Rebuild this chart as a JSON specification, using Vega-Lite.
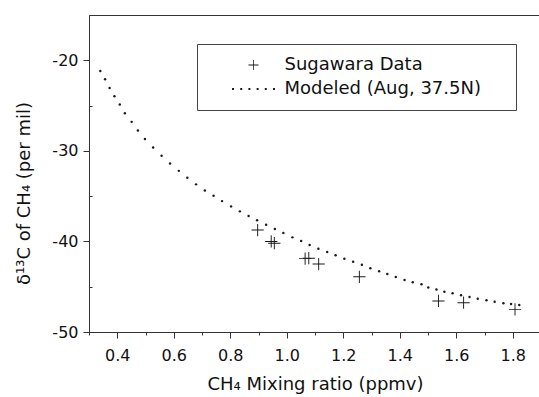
{
  "$schema": "https://vega.github.io/schema/vega-lite/v6.json",
  "width": 452,
  "height": 317,
  "autosize": {"type": "none"},
  "padding": {"left": 89, "top": 15, "right": 0, "bottom": 65},
  "background": "white",
  "config": {
    "view": {"stroke": "#333", "strokeWidth": 1},
    "font": "DejaVu Sans",
    "axis": {"grid": false, "domainColor": "#333", "tickColor": "#333", "labelColor": "#111", "titleColor": "#111", "labelFont": "DejaVu Sans", "titleFont": "DejaVu Sans", "titleFontWeight": "normal"}
  },
  "datasets": {
    "sugawara": [
      {"series": "Sugawara Data", "mixing_ratio": 0.897, "delta13c": -38.74},
      {"series": "Sugawara Data", "mixing_ratio": 0.945, "delta13c": -40.0},
      {"series": "Sugawara Data", "mixing_ratio": 0.956, "delta13c": -40.2},
      {"series": "Sugawara Data", "mixing_ratio": 1.065, "delta13c": -41.9},
      {"series": "Sugawara Data", "mixing_ratio": 1.078, "delta13c": -41.85},
      {"series": "Sugawara Data", "mixing_ratio": 1.113, "delta13c": -42.5},
      {"series": "Sugawara Data", "mixing_ratio": 1.257, "delta13c": -43.9},
      {"series": "Sugawara Data", "mixing_ratio": 1.537, "delta13c": -46.57},
      {"series": "Sugawara Data", "mixing_ratio": 1.626, "delta13c": -46.76},
      {"series": "Sugawara Data", "mixing_ratio": 1.808, "delta13c": -47.5}
    ],
    "modeled": [
      {"series": "Modeled (Aug, 37.5N)", "mixing_ratio": 0.340, "delta13c": -21.18},
      {"series": "Modeled (Aug, 37.5N)", "mixing_ratio": 0.357, "delta13c": -22.09},
      {"series": "Modeled (Aug, 37.5N)", "mixing_ratio": 0.373, "delta13c": -23.05},
      {"series": "Modeled (Aug, 37.5N)", "mixing_ratio": 0.390, "delta13c": -23.97},
      {"series": "Modeled (Aug, 37.5N)", "mixing_ratio": 0.409, "delta13c": -24.88},
      {"series": "Modeled (Aug, 37.5N)", "mixing_ratio": 0.427, "delta13c": -25.84},
      {"series": "Modeled (Aug, 37.5N)", "mixing_ratio": 0.451, "delta13c": -26.80},
      {"series": "Modeled (Aug, 37.5N)", "mixing_ratio": 0.473, "delta13c": -27.75},
      {"series": "Modeled (Aug, 37.5N)", "mixing_ratio": 0.498, "delta13c": -28.68},
      {"series": "Modeled (Aug, 37.5N)", "mixing_ratio": 0.527, "delta13c": -29.63},
      {"series": "Modeled (Aug, 37.5N)", "mixing_ratio": 0.557, "delta13c": -30.55},
      {"series": "Modeled (Aug, 37.5N)", "mixing_ratio": 0.587, "delta13c": -31.39},
      {"series": "Modeled (Aug, 37.5N)", "mixing_ratio": 0.618, "delta13c": -32.21},
      {"series": "Modeled (Aug, 37.5N)", "mixing_ratio": 0.648, "delta13c": -32.98},
      {"series": "Modeled (Aug, 37.5N)", "mixing_ratio": 0.679, "delta13c": -33.70},
      {"series": "Modeled (Aug, 37.5N)", "mixing_ratio": 0.710, "delta13c": -34.37},
      {"series": "Modeled (Aug, 37.5N)", "mixing_ratio": 0.741, "delta13c": -34.96},
      {"series": "Modeled (Aug, 37.5N)", "mixing_ratio": 0.771, "delta13c": -35.55},
      {"series": "Modeled (Aug, 37.5N)", "mixing_ratio": 0.803, "delta13c": -36.13},
      {"series": "Modeled (Aug, 37.5N)", "mixing_ratio": 0.834, "delta13c": -36.68},
      {"series": "Modeled (Aug, 37.5N)", "mixing_ratio": 0.865, "delta13c": -37.20},
      {"series": "Modeled (Aug, 37.5N)", "mixing_ratio": 0.895, "delta13c": -37.67},
      {"series": "Modeled (Aug, 37.5N)", "mixing_ratio": 0.927, "delta13c": -38.16},
      {"series": "Modeled (Aug, 37.5N)", "mixing_ratio": 0.958, "delta13c": -38.63},
      {"series": "Modeled (Aug, 37.5N)", "mixing_ratio": 0.988, "delta13c": -39.07},
      {"series": "Modeled (Aug, 37.5N)", "mixing_ratio": 1.020, "delta13c": -39.55},
      {"series": "Modeled (Aug, 37.5N)", "mixing_ratio": 1.051, "delta13c": -39.96},
      {"series": "Modeled (Aug, 37.5N)", "mixing_ratio": 1.081, "delta13c": -40.40},
      {"series": "Modeled (Aug, 37.5N)", "mixing_ratio": 1.112, "delta13c": -40.81},
      {"series": "Modeled (Aug, 37.5N)", "mixing_ratio": 1.143, "delta13c": -41.17},
      {"series": "Modeled (Aug, 37.5N)", "mixing_ratio": 1.173, "delta13c": -41.53},
      {"series": "Modeled (Aug, 37.5N)", "mixing_ratio": 1.204, "delta13c": -41.91},
      {"series": "Modeled (Aug, 37.5N)", "mixing_ratio": 1.235, "delta13c": -42.24},
      {"series": "Modeled (Aug, 37.5N)", "mixing_ratio": 1.266, "delta13c": -42.58},
      {"series": "Modeled (Aug, 37.5N)", "mixing_ratio": 1.296, "delta13c": -42.97},
      {"series": "Modeled (Aug, 37.5N)", "mixing_ratio": 1.327, "delta13c": -43.30},
      {"series": "Modeled (Aug, 37.5N)", "mixing_ratio": 1.356, "delta13c": -43.59},
      {"series": "Modeled (Aug, 37.5N)", "mixing_ratio": 1.386, "delta13c": -43.92},
      {"series": "Modeled (Aug, 37.5N)", "mixing_ratio": 1.417, "delta13c": -44.25},
      {"series": "Modeled (Aug, 37.5N)", "mixing_ratio": 1.446, "delta13c": -44.51},
      {"series": "Modeled (Aug, 37.5N)", "mixing_ratio": 1.477, "delta13c": -44.73},
      {"series": "Modeled (Aug, 37.5N)", "mixing_ratio": 1.501, "delta13c": -45.08},
      {"series": "Modeled (Aug, 37.5N)", "mixing_ratio": 1.530, "delta13c": -45.30},
      {"series": "Modeled (Aug, 37.5N)", "mixing_ratio": 1.558, "delta13c": -45.55},
      {"series": "Modeled (Aug, 37.5N)", "mixing_ratio": 1.587, "delta13c": -45.72},
      {"series": "Modeled (Aug, 37.5N)", "mixing_ratio": 1.617, "delta13c": -45.94},
      {"series": "Modeled (Aug, 37.5N)", "mixing_ratio": 1.647, "delta13c": -46.13},
      {"series": "Modeled (Aug, 37.5N)", "mixing_ratio": 1.676, "delta13c": -46.32},
      {"series": "Modeled (Aug, 37.5N)", "mixing_ratio": 1.707, "delta13c": -46.49},
      {"series": "Modeled (Aug, 37.5N)", "mixing_ratio": 1.736, "delta13c": -46.65},
      {"series": "Modeled (Aug, 37.5N)", "mixing_ratio": 1.767, "delta13c": -46.82},
      {"series": "Modeled (Aug, 37.5N)", "mixing_ratio": 1.794, "delta13c": -46.90},
      {"series": "Modeled (Aug, 37.5N)", "mixing_ratio": 1.823, "delta13c": -47.01}
    ]
  },
  "layer": [
    {
      "data": {"name": "sugawara"},
      "mark": {"type": "point", "filled": true, "opacity": 1, "size": 253, "color": "#1a1a1a"},
      "encoding": {
        "x": {
          "field": "mixing_ratio", "type": "quantitative",
          "scale": {"domain": [0.3, 1.9], "nice": false, "zero": false},
          "axis": {"orient": "bottom", "values": [0.4, 0.6, 0.8, 1.0, 1.2, 1.4, 1.6, 1.8], "format": ".1f", "tickSize": 6, "labelFontSize": 16, "labelPadding": 9, "title": "CH₄ Mixing ratio (ppmv)", "titleFontSize": 18, "titlePadding": 12}
        },
        "y": {
          "field": "delta13c", "type": "quantitative",
          "scale": {"domain": [-50, -15], "nice": false, "zero": false},
          "axis": {"orient": "left", "values": [-20, -30, -40, -50], "labelExpr": "replace(datum.label, '−', '-')", "tickSize": 6, "labelFontSize": 16, "labelPadding": 5, "title": "δ¹³C of CH₄ (per mil)", "titleFontSize": 18, "titleX": -56, "titleY": 178}
        },
        "shape": {
          "field": "series", "type": "nominal",
          "scale": {
            "domain": ["Sugawara Data", "Modeled (Aug, 37.5N)"],
            "range": [
              "M-0.77,-0.06H0.77V0.06H-0.77Z M-0.06,-0.77H0.06V0.77H-0.06Z",
              "M-3.3,-0.15h0.3v0.3h-0.3Z M-2.04,-0.15h0.3v0.3h-0.3Z M-0.78,-0.15h0.3v0.3h-0.3Z M0.48,-0.15h0.3v0.3h-0.3Z M1.74,-0.15h0.3v0.3h-0.3Z M3.0,-0.15h0.3v0.3h-0.3Z"
            ]
          },
          "legend": {
            "title": null, "orient": "none", "legendX": 108, "legendY": 29, "padding": 12,
            "strokeColor": "#444", "fillColor": "white",
            "labelFontSize": 18, "labelFont": "DejaVu Sans", "labelColor": "#111", "labelLimit": 320,
            "labelExpr": "datum.label + '\u00a0\u00a0\u00a0\u00a0\u200b'",
            "symbolSize": 169, "symbolOffset": 35.5, "labelOffset": 22, "rowPadding": 6, "symbolOpacity": 1
          }
        }
      }
    },
    {
      "data": {"name": "modeled"},
      "mark": {"type": "point", "shape": "circle", "filled": true, "opacity": 1, "size": 6, "color": "#1a1a1a"},
      "encoding": {
        "x": {
          "field": "mixing_ratio", "type": "quantitative",
          "axis": {"orient": "bottom", "values": [0.3, 0.5, 0.7, 0.9, 1.1, 1.3, 1.5, 1.7, 1.9], "labels": false, "domain": false, "tickSize": 3, "title": null}
        },
        "y": {
          "field": "delta13c", "type": "quantitative",
          "axis": {"orient": "left", "values": [-25, -35, -45], "labels": false, "domain": false, "tickSize": -3, "title": null}
        }
      }
    }
  ],
  "resolve": {"axis": {"x": "independent", "y": "independent"}}
}
